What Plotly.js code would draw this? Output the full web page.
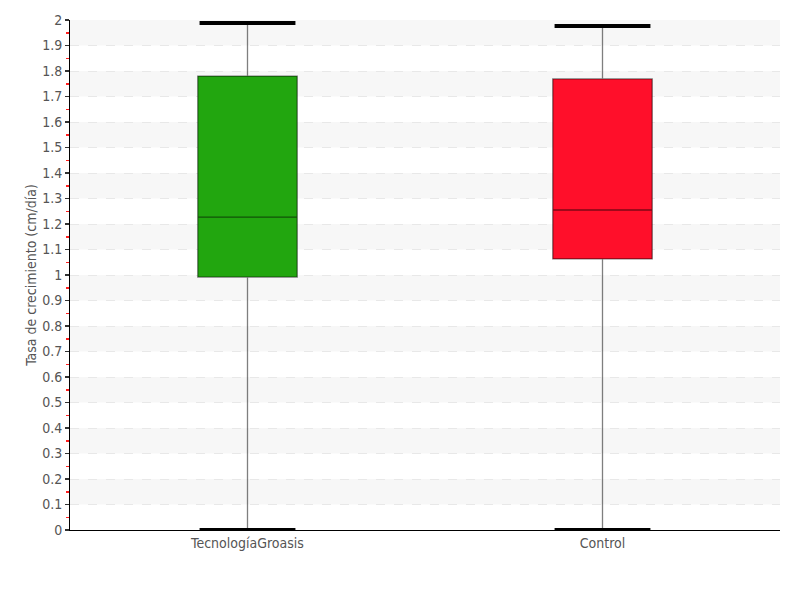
<!DOCTYPE html>
<html><head><meta charset="utf-8">
<script src="https://cdn.plot.ly/plotly-3.0.1.min.js"></script>
<style>body{margin:0;}#c{width:800px;height:600px;}
#c svg text{font-stretch:condensed !important;}</style>
</head><body><div id="c"></div>
<script>
const categories = ["TecnologíaGroasis", "Control"];
const q1 = [0.992, 1.063];
const median = [1.227, 1.255];
const q3 = [1.780, 1.769];
const lowerfence = [0.0, 0.0];
const upperfence = [1.988, 1.976];
const colors = ["#22a60f", "#ff0f2a"];
const tickVals = [0,0.1,0.2,0.3,0.4,0.5,0.6,0.7,0.8,0.9,1,1.1,1.2,1.3,1.4,1.5,1.6,1.7,1.8,1.9,2];

const FONT = '"DejaVu Sans Condensed", "DejaVu Sans", sans-serif';
const boxW = 0.28, capW = 0.27;
const traces = [];
categories.forEach((c, i) => {
  traces.push({
    type: 'box', x: [i], q1: [q1[i]], median: [median[i]], q3: [q3[i]],
    lowerfence: [lowerfence[i]], upperfence: [upperfence[i]],
    width: boxW, whiskerwidth: 0, fillcolor: colors[i],
    line: {color: 'rgba(0,0,0,0.5)', width: 1.3},
    hoverinfo: 'none', showlegend: false, name: c
  });
  [upperfence[i], lowerfence[i]].forEach(v => {
    traces.push({
      type: 'scatter', mode: 'lines', x: [i - capW/2, i + capW/2], y: [v, v],
      line: {color: '#000', width: 4}, hoverinfo: 'none', showlegend: false
    });
  });
});

const shapes = [];
for (let k = 1; k < tickVals.length; k += 2) {
  shapes.push({type: 'rect', xref: 'paper', yref: 'y', x0: 0, x1: 1,
    y0: tickVals[k], y1: tickVals[k+1], fillcolor: '#f7f7f7', line: {width: 0}, layer: 'below'});
}

const layout = {
  width: 800, height: 600,
  margin: {l: 70, r: 20, t: 20, b: 70},
  paper_bgcolor: '#fff', plot_bgcolor: '#fff',
  font: {family: FONT, size: 14, color: '#555', weight: 300},
  shapes: shapes,
  xaxis: {
    range: [-0.5, 1.5], tickvals: [0, 1], ticktext: categories,
    showgrid: false, zeroline: false, showline: true, linecolor: '#000', linewidth: 1,
    ticks: '', ticklen: 0, tickfont: {family: FONT, size: 14, color: '#555'}
  },
  yaxis: {
    range: [0, 2], tickvals: tickVals, ticktext: tickVals.map(v => String(v)),
    showgrid: true, gridcolor: '#e8e8e8', griddash: 'dash', gridwidth: 1,
    zeroline: false, showline: true, linecolor: '#000', linewidth: 1,
    ticks: 'outside', ticklen: 4, tickcolor: '#333', tickwidth: 1.5,
    minor: {dtick: 0.1, tick0: 0.05, ticks: 'outside', ticklen: 3, tickcolor: '#ff2020', showgrid: false},
    tickfont: {family: FONT, size: 14, color: '#555'},
    title: {text: 'Tasa de crecimiento (cm/día)', font: {family: FONT, size: 14, color: '#555'}, standoff: 2}
  }
};
Plotly.newPlot('c', traces, layout, {staticPlot: true});
</script></body></html>
